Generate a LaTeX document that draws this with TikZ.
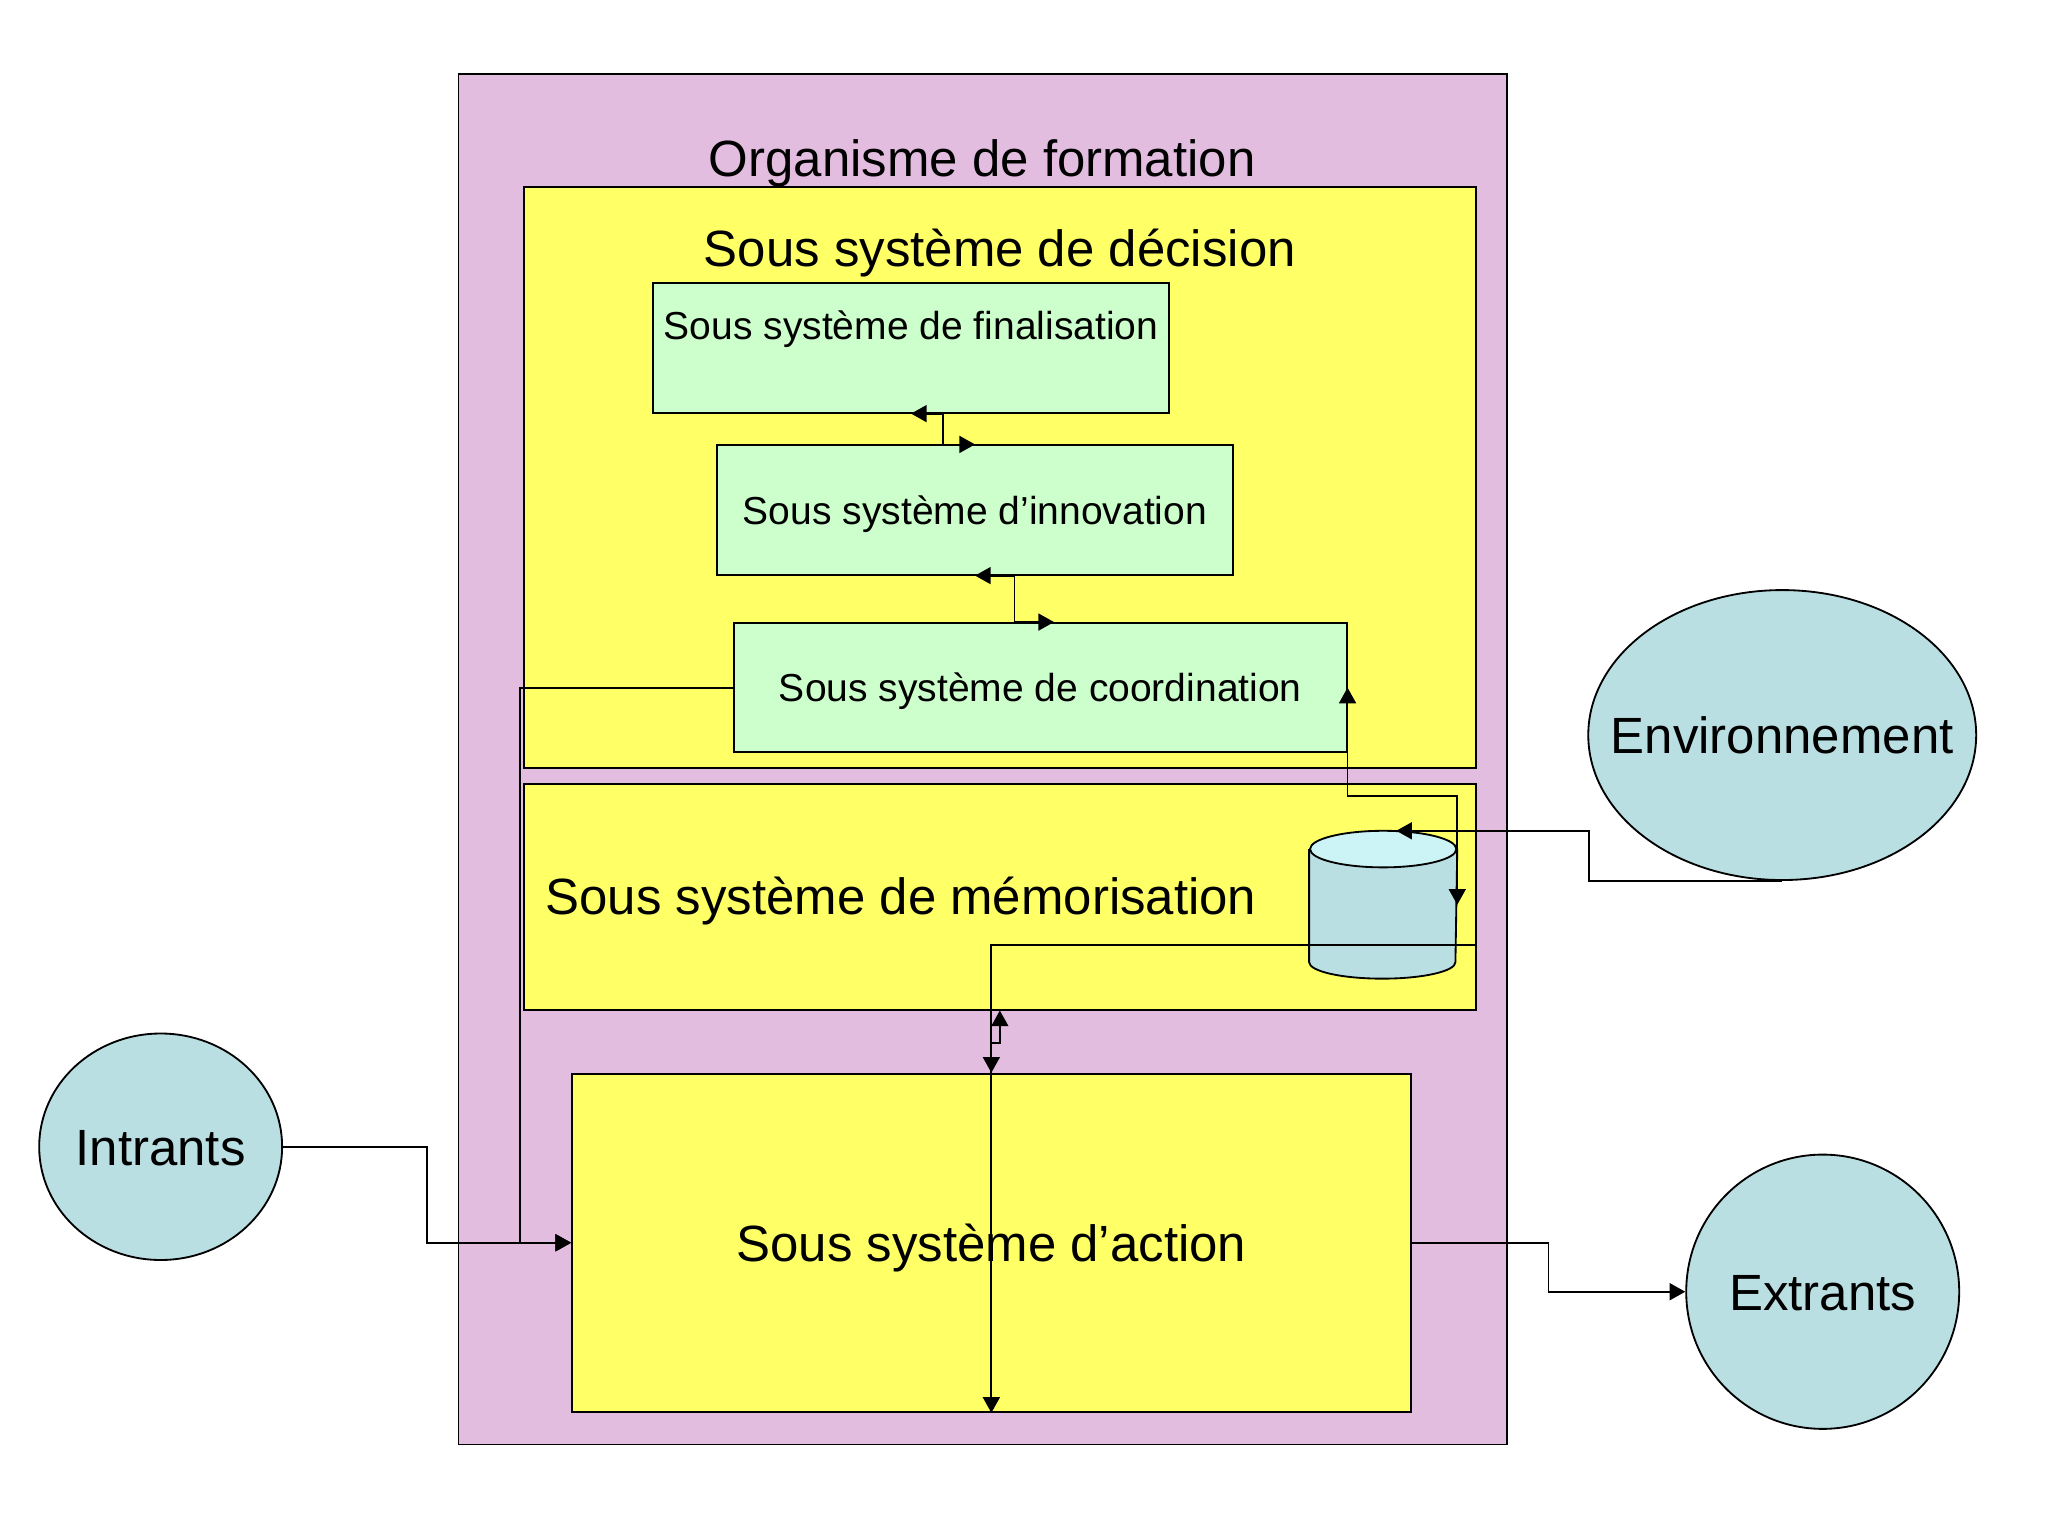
\documentclass[tikz,border=0pt]{standalone}
\usepackage{fontspec}
\setmainfont{Liberation Sans}
\usetikzlibrary{arrows.meta,calc,positioning,shapes.geometric}
\definecolor{orgpink}{HTML}{E2BDDF}
\definecolor{subyellow}{HTML}{FFFF66}
\definecolor{subgreen}{HTML}{CCFFCC}
\definecolor{envblue}{HTML}{BADFE3}
\definecolor{dbtop}{HTML}{CCF3F5}
\tikzset{
  bigfont/.style={font=\fontsize{11.1}{13}\selectfont, text height=2.8mm, text depth=0pt},
  smallfont/.style={font=\fontsize{8.5}{10}\selectfont, text height=2.15mm, text depth=0pt},
  frame/.style={draw, rectangle, inner sep=0pt},
  blob/.style={draw, ellipse, fill=envblue, inner sep=0pt, bigfont},
  link/.style={draw, line width=0.4pt}
}
\begin{document}
\begin{tikzpicture}[>={Triangle[length=1.2mm,width=1.3mm]}, line width=0.4pt]
   \useasboundingbox (0,0) rectangle (15.68,11.76);
   \begin{scope}[every node/.style={frame}]
    \node[fill=orgpink, minimum width=8.03cm, minimum height=10.49cm] (org) at (7.525,5.945) {};
    \node[fill=subyellow, minimum width=7.29cm, minimum height=4.45cm] (dec) at (7.655,8.105) {};
    \node[fill=subyellow, minimum width=7.29cm, minimum height=1.73cm] (mem) at (7.655,4.895) {};
    \node[fill=subyellow, minimum width=6.42cm, minimum height=2.59cm, bigfont] (act) at (7.59,2.245) {Sous système d’action};
    \node[fill=subgreen, minimum width=3.95cm, minimum height=0.99cm] (fin) at (6.975,9.095) {};
    \node[fill=subgreen, minimum width=3.95cm, minimum height=0.99cm, smallfont] (inn) at (7.465,7.855) {Sous système d’innovation};
    \node[fill=subgreen, minimum width=4.69cm, minimum height=0.99cm, smallfont] (coord) at (7.965,6.495) {Sous système de coordination};
   \end{scope}
   \begin{scope}[every node/.style={inner sep=0pt}]
    \node[bigfont, anchor=base] (orgTxt) at (7.52,10.405) {Organisme de formation};
    \node[bigfont, anchor=base] (decTxt) at (7.655,9.72) {Sous système de décision};
    \node[smallfont, anchor=base] (finTxt) at (6.975,9.16) {Sous système de finalisation};
    \node[bigfont, anchor=west] (memTxt) at (4.17,4.895) {Sous système de mémorisation};
    \node[minimum width=1.12cm, minimum height=1.118cm] (db) at (10.59,4.833) {};
   \end{scope}
   % data store
   \draw[fill=envblue] ([yshift=-1.4mm]db.north west) -- ([yshift=1.26mm]db.south west)
        arc[start angle=180, end angle=360, x radius=5.6mm, y radius=1.26mm] -- ([yshift=-1.4mm]db.north east);
   \draw[fill=dbtop] ([yshift=-1.4mm]db.north) ellipse[x radius=5.6mm, y radius=1.4mm];

   \node[blob, inner xsep=-2.7mm, minimum width=2.97cm, minimum height=2.22cm] (env) at (13.645,6.132) {Environnement};
   \node[blob, minimum width=1.86cm, minimum height=1.734cm] (intr) at (1.23,2.98) {Intrants};
   \node[blob, minimum width=2.09cm, minimum height=2.10cm] (extr) at (13.955,1.87) {Extrants};

   % connectors
   \draw[link, <->] (fin.south) -| ($(fin.south)!.5!(inn.north)$) |- (inn.north);
   \draw[link, <->] (inn.south) -| ($(inn.south)!.5!([xshift=1.05mm]coord.north)$) |- ([xshift=1.05mm]coord.north);
   \draw[link, <->] (coord.east) |- ($(coord.east)!.5!(db.east)$) -| (db.east);
   \draw[link, ->] (env.south) -| ($(env.south)!.5!([xshift=1mm]db.north)$) |- ([xshift=1mm]db.north);
   \draw[link, ->] ([yshift=-3.71mm]mem.east) -| (act.north);
   \draw[link, <->] (mem.south) -- ++(0,-0.246) -| (act.south);
   \draw[link, ->] (coord.west) -- ++(-1.63,0) |- (act.west);
   \draw[link, ->] (intr.east) -| ($(intr.east)!.5!(act.west)$) |- (act.west);
   \draw[link, ->] (act.east) -| ($(act.east)!.5!(extr.west)$) |- (extr.west);
\end{tikzpicture}
\end{document}
